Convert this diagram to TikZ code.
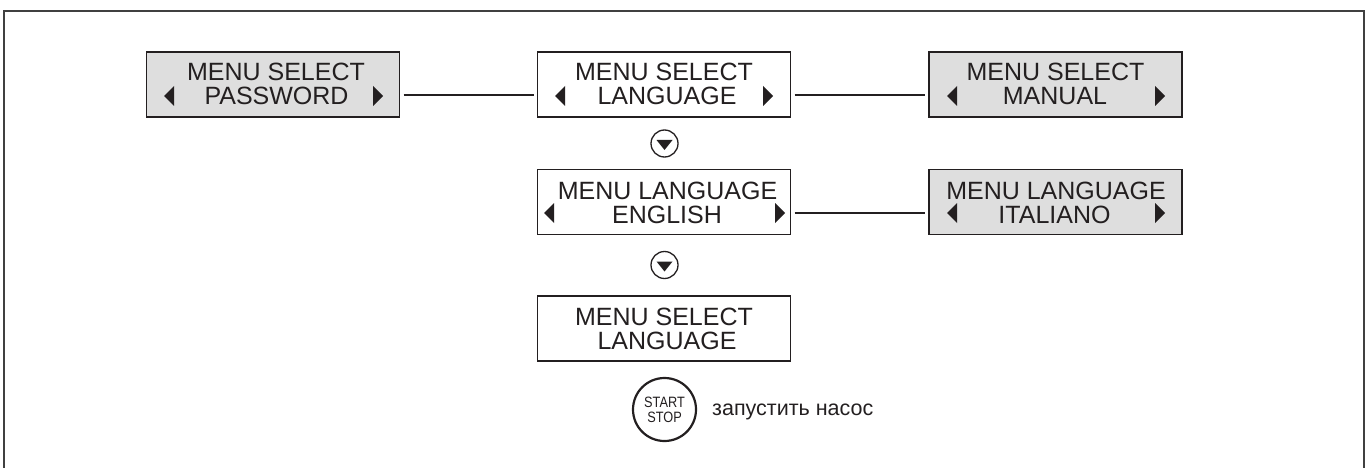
\documentclass[tikz,border=0pt]{standalone}
\usepackage{fontspec}
\setmainfont{Liberation Sans}
\usetikzlibrary{calc}
\definecolor{ink}{RGB}{35,31,32}
\definecolor{boxgray}{RGB}{222,222,222}
\tikzset{
  menubox/.style={draw=ink, line width=1.3pt, minimum width=253pt, minimum height=65pt, inner sep=0pt, outer sep=0pt},
  grayb/.style={menubox, fill=boxgray},
  whiteb/.style={menubox, fill=white},
  txt/.style={anchor=base, inner sep=0pt, font=\fontsize{25}{25}\selectfont, text=ink},
  conn/.style={draw=ink, line width=2.6pt, shorten >=4pt, shorten <=4pt},
  tri/.style={fill=ink},
  downbtn/.style={circle, draw=ink, line width=1.3pt, minimum size=27pt, inner sep=0pt},
  ssbtn/.style={circle, draw=ink, line width=2.2pt, minimum size=63pt, inner sep=0pt, align=center, font=\fontsize{15}{15}\selectfont, text=ink},
  frameline/.style={draw=black!75, line width=1.5pt}
}
\newcommand{\lefttri}[2]{\fill[tri] (#1,#2) -- ++(10,-10) -- ++(0,20) -- cycle;}
\newcommand{\righttri}[2]{\fill[tri] (#1,#2) -- ++(-10,-10) -- ++(0,20) -- cycle;}
\begin{document}
\begin{tikzpicture}[x=1pt,y=-1pt]
\useasboundingbox (0,0) rectangle (1370,468);
\draw[frameline] (4,468) -- (4,11) -- (1364,11) -- (1364,468);

% row 1
\node[grayb] (pw) at (273,84.5) {};
\node[whiteb] (lang) at (664,84.5) {};
\node[grayb] (man) at (1055.5,84.5) {};
\node[txt] (pwa) at (276,81) {MENU SELECT};
\node[txt] (pwb) at (276.5,105) {PASSWORD};
\node[txt] (langa) at (664,81) {MENU SELECT};
\node[txt] (langb) at (667,105) {LANGUAGE};
\node[txt] (mana) at (1055.5,81) {MENU SELECT};
\node[txt] (manb) at (1055,105) {MANUAL};
\lefttri{164}{96}
\righttri{383}{96}
\lefttri{555}{96}
\righttri{773}{96}
\lefttri{947}{96}
\righttri{1165}{96}
\draw[conn] ([yshift=-10.5pt]pw.east) -- ([yshift=-10.5pt]lang.west);
\draw[conn] ([yshift=-10.5pt]lang.east) -- ([yshift=-10.5pt]man.west);

% down button 1
\node[downbtn] (d1) at (664.5,143.5) {};
\fill[tri] (656.5,140) -- (672.5,140) -- (664.5,150) -- cycle;

% row 2
\node[whiteb] (eng) at (664,202) {};
\node[grayb] (ita) at (1055.5,202) {};
\node[txt] (enga) at (667.5,199) {MENU LANGUAGE};
\node[txt] (engb) at (667,223) {ENGLISH};
\node[txt] (itaa) at (1056,199) {MENU LANGUAGE};
\node[txt] (itab) at (1054.5,223) {ITALIANO};
\lefttri{544}{213}
\righttri{785}{213}
\lefttri{947}{213}
\righttri{1165}{213}
\draw[conn] ([yshift=-11pt]eng.east) -- ([yshift=-11pt]ita.west);

% down button 2
\node[downbtn] (d2) at (664.5,265) {};
\fill[tri] (656.5,261.5) -- (672.5,261.5) -- (664.5,271.5) -- cycle;

% row 3
\node[whiteb] (sel) at (664,328.5) {};
\node[txt] (sela) at (664,325) {MENU SELECT};
\node[txt] (selb) at (667,349) {LANGUAGE};

% start stop
\node[ssbtn] (ss) at (664.5,409.5) {\scalebox{0.85}[1]{START}\\\scalebox{0.85}[1]{STOP}};
\node[anchor=base west, inner sep=0pt, font=\fontsize{21.5}{21.5}\selectfont, text=ink] (run) at (712,415) {запустить насос};
\end{tikzpicture}
\end{document}
